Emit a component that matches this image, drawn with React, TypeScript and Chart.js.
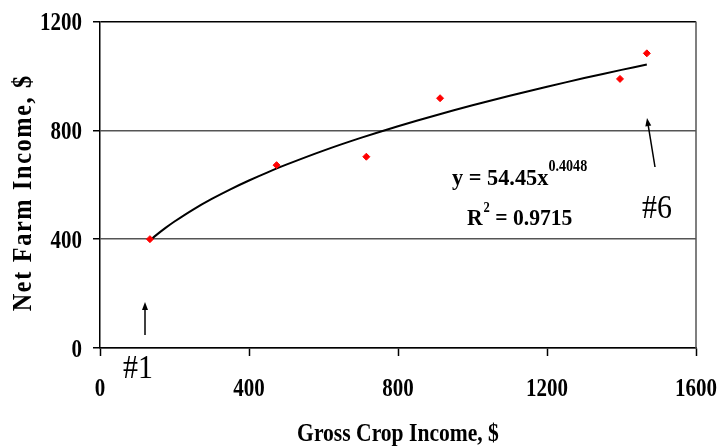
import React, { useEffect, useRef } from "react";
import { Chart, registerables } from "chart.js";

Chart.register(...registerables);

// Data
const GROSS_CROP_INCOME = [134, 474, 715, 913, 1396, 1468];
const NET_FARM_INCOME = [400, 672, 703, 918, 989, 1083];

// Power trendline printed on the chart: y = 54.45 x^0.4048
const TREND_A = 54.45;
const TREND_B = 0.4048;
const TREND_X = [134, 150, 175, 200, 250, 300, 350, 400, 450, 500, 600, 700, 800, 900, 1000, 1100, 1200, 1300, 1400, 1468];

const X_TICKS = [0, 400, 800, 1200, 1600];
const Y_TICKS = [0, 400, 800, 1200];

const X_TITLE = "Gross Crop Income, $";
const Y_TITLE = "Net Farm Income, $";
const EQ_MAIN = "y = 54.45x";
const EQ_EXP = "0.4048";
const R_MAIN = "R";
const R_SUP = "2";
const R_REST = " = 0.9715";
const LABEL_FIRST = "#1";
const LABEL_LAST = "#6";

const SERIF = '"Liberation Serif", "Times New Roman", serif';

function drawText(
  ctx: CanvasRenderingContext2D,
  text: string,
  x: number,
  y: number,
  font: string,
  sx: number,
  align: "left" | "center" | "right" = "left",
  spacing = 0
): number {
  ctx.save();
  ctx.font = font;
  (ctx as any).letterSpacing = spacing ? `${spacing}px` : "0px";
  const w = ctx.measureText(text).width * sx;
  const x0 = align === "center" ? x - w / 2 : align === "right" ? x - w : x;
  ctx.translate(x0, y);
  ctx.scale(sx, 1);
  ctx.textAlign = "left";
  ctx.textBaseline = "alphabetic";
  ctx.fillStyle = "#000";
  ctx.fillText(text, 0, 0);
  ctx.restore();
  return w;
}

function arrow(ctx: CanvasRenderingContext2D, x1: number, y1: number, x2: number, y2: number) {
  const ang = Math.atan2(y2 - y1, x2 - x1);
  const len = 8;
  const half = 3;
  ctx.save();
  ctx.strokeStyle = "#000";
  ctx.fillStyle = "#000";
  ctx.lineWidth = 1.5;
  ctx.beginPath();
  ctx.moveTo(x1, y1);
  ctx.lineTo(x2 - Math.cos(ang) * len * 0.6, y2 - Math.sin(ang) * len * 0.6);
  ctx.stroke();
  ctx.beginPath();
  ctx.moveTo(x2, y2);
  ctx.lineTo(
    x2 - Math.cos(ang) * len + Math.cos(ang + Math.PI / 2) * half,
    y2 - Math.sin(ang) * len + Math.sin(ang + Math.PI / 2) * half
  );
  ctx.lineTo(
    x2 - Math.cos(ang) * len - Math.cos(ang + Math.PI / 2) * half,
    y2 - Math.sin(ang) * len - Math.sin(ang + Math.PI / 2) * half
  );
  ctx.closePath();
  ctx.fill();
  ctx.restore();
}

const textPlugin = {
  id: "textPlugin",
  afterDraw(chart: any) {
    const ctx: CanvasRenderingContext2D = chart.ctx;
    const xs = chart.scales.x;
    const ys = chart.scales.y;
    const area = chart.chartArea;

    // right border of plot area
    ctx.save();
    ctx.strokeStyle = "#555";
    ctx.lineWidth = 1.5;
    ctx.beginPath();
    ctx.moveTo(area.right, area.top);
    ctx.lineTo(area.right, area.bottom);
    ctx.stroke();
    ctx.restore();

    // tick labels
    const tickFont = `bold 25px ${SERIF}`;
    Y_TICKS.forEach((v) => {
      const py = ys.getPixelForValue(v);
      drawText(ctx, String(v), area.left - 18, py + 8.5, tickFont, 0.84, "right");
    });
    X_TICKS.forEach((v) => {
      const px = xs.getPixelForValue(v);
      drawText(ctx, String(v), px, area.bottom + 48, tickFont, 0.84, "center");
    });

    // axis titles
    drawText(ctx, X_TITLE, (area.left + area.right) / 2, 441, `bold 26px ${SERIF}`, 0.83, "center");
    ctx.save();
    ctx.translate(31, (area.top + area.bottom) / 2 + 8);
    ctx.rotate(-Math.PI / 2);
    drawText(ctx, Y_TITLE, 0, 0, `bold 27.5px ${SERIF}`, 0.88, "center", 1.9);
    ctx.restore();

    // equation
    let x = 452;
    x += drawText(ctx, EQ_MAIN, x, 185, `bold 24px ${SERIF}`, 0.93);
    drawText(ctx, EQ_EXP, x, 170.5, `bold 17px ${SERIF}`, 0.83);
    x = 467;
    x += drawText(ctx, R_MAIN, x, 225, `bold 24px ${SERIF}`, 0.9);
    x += drawText(ctx, R_SUP, x + 1, 211.5, `bold 14px ${SERIF}`, 0.9) + 1;
    drawText(ctx, R_REST, x, 225, `bold 24px ${SERIF}`, 0.9);

    // point labels and arrows
    drawText(ctx, LABEL_LAST, 642, 218, `34px ${SERIF}`, 0.88);
    drawText(ctx, LABEL_FIRST, 123, 378, `34px ${SERIF}`, 0.88);
    arrow(ctx, 655, 167, 647, 118);
    arrow(ctx, 145, 335, 145, 302);
  },
};

export default function App() {
  const ref = useRef<HTMLCanvasElement | null>(null);

  useEffect(() => {
    if (!ref.current) return;
    const points = GROSS_CROP_INCOME.map((x, i) => ({ x, y: NET_FARM_INCOME[i] }));
    const trend = TREND_X.map((x) => ({ x, y: TREND_A * Math.pow(x, TREND_B) }));

    const chart = new Chart(ref.current, {
      type: "scatter",
      data: {
        datasets: [
          {
            label: "Farms",
            data: points,
            pointStyle: "rectRot",
            pointRadius: 3.5,
            pointBackgroundColor: "#ff0000",
            pointBorderColor: "#ff0000",
            pointBorderWidth: 1,
            showLine: false,
          },
          {
            label: "Power trend",
            data: trend,
            showLine: true,
            borderColor: "#000",
            borderWidth: 2,
            pointRadius: 0,
            tension: 0.2,
          },
        ],
      },
      options: {
        responsive: false,
        animation: false,
        layout: { padding: { top: 21.5, right: 23, left: 0, bottom: 0 } },
        plugins: { legend: { display: false }, tooltip: { enabled: false } },
        scales: {
          x: {
            type: "linear",
            min: 0,
            max: 1600,
            afterBuildTicks: (s: any) => {
              s.ticks = X_TICKS.map((v) => ({ value: v }));
            },
            afterFit: (s: any) => {
              s.height = 98;
            },
            ticks: { display: false },
            grid: {
              drawOnChartArea: false,
              drawTicks: true,
              tickLength: 8,
              tickColor: "#000",
              tickWidth: 1.5,
              color: "#000",
            },
            border: { display: true, color: "#000", width: 1.5 },
          },
          y: {
            type: "linear",
            min: 0,
            max: 1200,
            afterBuildTicks: (s: any) => {
              s.ticks = Y_TICKS.map((v) => ({ value: v }));
            },
            afterFit: (s: any) => {
              s.width = 100;
            },
            ticks: { display: false },
            grid: {
              drawOnChartArea: true,
              drawTicks: true,
              tickLength: 7,
              tickColor: "#000",
              tickWidth: 1.5,
              lineWidth: 1.5,
              color: (c: any) => (c.tick && c.tick.value === 1200 ? "#000" : "#555"),
            },
            border: { display: true, color: "#000", width: 1.5 },
          },
        },
      },
      plugins: [textPlugin],
    });
    return () => chart.destroy();
  }, []);

  return (
    <div style={{ position: "fixed", left: 0, top: 0, width: 719, height: 446, background: "#fff" }}>
      <canvas ref={ref} width={719} height={446} style={{ display: "block" }} />
    </div>
  );
}
